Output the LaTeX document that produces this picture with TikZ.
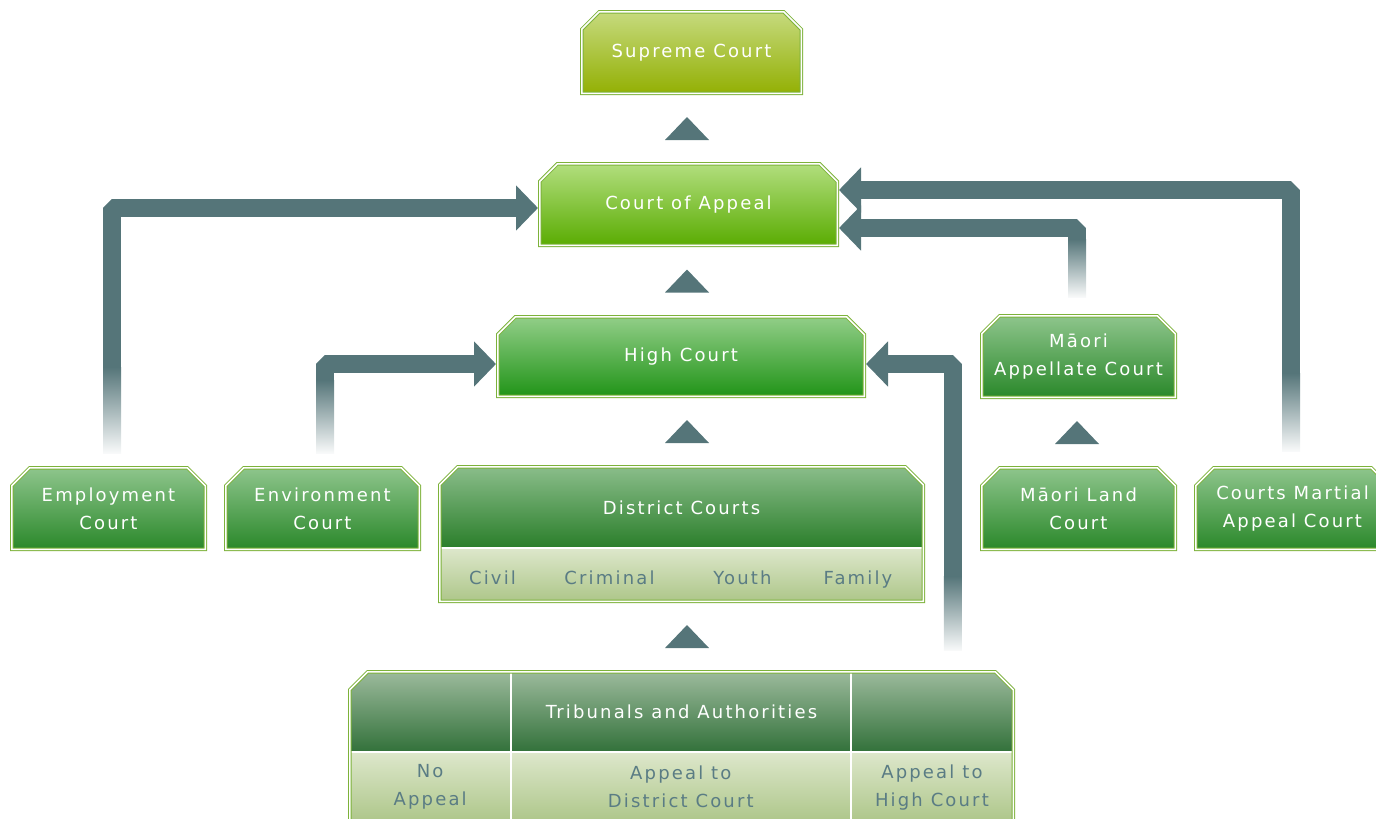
\documentclass[tikz,border=0pt]{standalone}
\usepackage{fontspec}
\usetikzlibrary{positioning, shapes.misc, calc, arrows.meta, fit}
\newfontfamily\courtfont{DejaVu Sans}[LetterSpace=12]

\definecolor{busgrey}{HTML}{557579}
\definecolor{rimgreen}{HTML}{7DB23A}
\definecolor{rowtext}{HTML}{5A7C84}
\definecolor{supA}{HTML}{C6DA7E}
\definecolor{supB}{HTML}{93B004}
\definecolor{coaA}{HTML}{B2DE7E}
\definecolor{coaB}{HTML}{5AAC02}
\definecolor{hcA}{HTML}{92CE88}
\definecolor{hcB}{HTML}{219418}
\definecolor{lowA}{HTML}{8EC58C}
\definecolor{lowB}{HTML}{2A882A}
\definecolor{dcA}{HTML}{8ABD8A}
\definecolor{dcB}{HTML}{2A7E2A}
\definecolor{triA}{HTML}{9CBA9C}
\definecolor{triB}{HTML}{32713A}
\definecolor{rowA}{HTML}{DDE7CB}
\definecolor{rowB}{HTML}{ADC689}

\begin{document}
\begin{tikzpicture}
        [
            x=1pt, y=-1pt,
            cut/.style={chamfered rectangle,
                        chamfered rectangle corners={north west,north east},
                        chamfered rectangle xsep=9pt, chamfered rectangle ysep=9pt,
                        inner sep=0pt},
            rim/.style={cut, draw=rimgreen, line width=1pt, double=white,
                        double distance=1.5pt, outer sep=1.75pt},
            frame/.style={rim, inner sep=12pt},
            court/.style={rim, text=white, align=center,
                          font=\courtfont\fontsize{18}{28}\selectfont},
            head/.style={cut, text=white, align=center,
                         font=\courtfont\fontsize{18}{28}\selectfont},
            row/.style={rectangle, inner sep=0pt, outer sep=0pt, top color=rowA,
                        bottom color=rowB, text=rowtext, align=center,
                        font=\courtfont\fontsize{18}{28}\selectfont},
            word/.style={text=rowtext, anchor=base,
                         font=\courtfont\fontsize{18}{28}\selectfont},
            bus/.style={draw=busgrey, line width=18pt, line join=bevel,
                        -{Triangle[width=44pt,length=22pt]}},
            fade/.style={top color=busgrey, bottom color=busgrey!4}
        ]
        \useasboundingbox (0,0) rectangle (1376,819);

        % upper courts
        \node (sc) [court, top color=supA, bottom color=supB,
                    minimum width=219.5, minimum height=81.5] at (691.5,52.5) {Supreme Court};
        \node (coa) [court, top color=coaA, bottom color=coaB,
                     minimum width=297.5, minimum height=81.5] at (688.5,204.5) {Court of Appeal};
        \node (hc) [court, top color=hcA, bottom color=hcB,
                    minimum width=366.5, minimum height=79.5] at (681,356.5) {High Court};
        \node (mac) [court, top color=lowA, bottom color=lowB,
                     minimum width=193.5, minimum height=81.5] at (1078.5,356.5) {M\=aori\\Appellate Court};

        % first instance courts
        \node (emp) [court, top color=lowA, bottom color=lowB,
                     minimum width=193.5, minimum height=81.5] at (108.5,508.5) {Employment\\Court};
        \node (env) [court, top color=lowA, bottom color=lowB,
                     minimum width=193.5, minimum height=81.5] at (322.5,508.5) {Environment\\Court};
        \node (mlc) [court, top color=lowA, bottom color=lowB,
                     minimum width=193.5, minimum height=81.5] at (1078.5,508.5) {M\=aori Land\\Court};
        \node (cma) [court, top color=lowA, bottom color=lowB,
                     minimum width=193.5, minimum height=81.5] at (1292.5,508.5) {Courts Martial\\Appeal Court};

        % district courts
        \node (dchead) [head, top color=dcA, bottom color=dcB,
                        minimum width=483.5, minimum height=81.25] at (681.5,507.4) {District Courts};
        \node (dcrow) [row, minimum width=483.5, minimum height=53.25, below=0pt of dchead] {};
        \draw [white, line width=1.5pt] (dcrow.north west) -- (dcrow.north east);
        \node (civil) [word] at (492.5,584) {Civil};
        \node (crim) [word] at (609.5,584) {Criminal};
        \node (youth) [word] at (742.5,584) {Youth};
        \node (fam) [word] at (858,584) {Family};
        \node (dc) [frame, minimum width=483.5, minimum height=134.5] at (681.5,534) {};

        % tribunals
        \node (trihead) [head, top color=triA, bottom color=triB,
                         minimum width=663.5, minimum height=80.25] at (681.5,711.9) {Tribunals and Authorities};
        \node (noap) [row, minimum width=161.25, minimum height=70,
                      anchor=north west] at (trihead.south west) {No\\Appeal};
        \node (apdc) [row, minimum width=340, minimum height=70, right=0pt of noap] {Appeal to\\District Court};
        \node (aphc) [row, minimum width=162.25, minimum height=70, right=0pt of apdc] {Appeal to\\High Court};
        \draw [white, line width=1.5pt] (noap.north west) -- (aphc.north east);
        \foreach \c in {apdc, aphc}
            \draw [white, line width=1.5pt] (\c.south west) -- (\c.west |- trihead.north);
        \node (tri) [frame, minimum width=663.5, minimum height=150.25] at (681.5,746.9) {};

        % appeals straight up
        \foreach \lo/\hi/\x in {coa/sc/687, hc/coa/687, dc/hc/687, tri/dc/687, mlc/mac/1077}
        {
            \path ($(\lo.north)!.5!(\hi.south)$) coordinate (m);
            \fill [busgrey] (\x,0 |- m) ++(-22,11.5) -- ++(44,0) -- ++(-22,-23) -- cycle;
        }

        % appeals round the side
        \draw [bus] ($(emp.north)+(3.5,-98)$) |- ($(coa.west)+(0,3.5)$);
        \shade [fade] ($(emp.north)+(-5.5,-99)$) rectangle ($(emp.north)+(12.5,-13)$);
        \draw [bus] ($(env.north)+(2.5,-85)$) |- ($(hc.west)+(0,7.5)$);
        \shade [fade] ($(env.north)+(-6.5,-86)$) rectangle ($(env.north)+(11.5,-13)$);
        \draw [bus] ($(aphc.north east)+(-60.25,-175)$) |- ($(hc.east)+(0,7.5)$);
        \shade [fade] ($(aphc.north east)+(-69.25,-176)$) rectangle ($(aphc.north east)+(-51.25,-102)$);
        \draw [bus] ($(mac.north)+(-1.5,-74)$) |- ($(coa.east)+(0,23.5)$);
        \shade [fade] ($(mac.north)+(-10.5,-75)$) rectangle ($(mac.north)+(7.5,-17)$);
        \draw [bus] ($(cma.north)+(-1.5,-92)$) |- ($(coa.east)+(0,-14.5)$);
        \shade [fade] ($(cma.north)+(-10.5,-93)$) rectangle ($(cma.north)+(7.5,-15)$);
\end{tikzpicture}
\end{document}
